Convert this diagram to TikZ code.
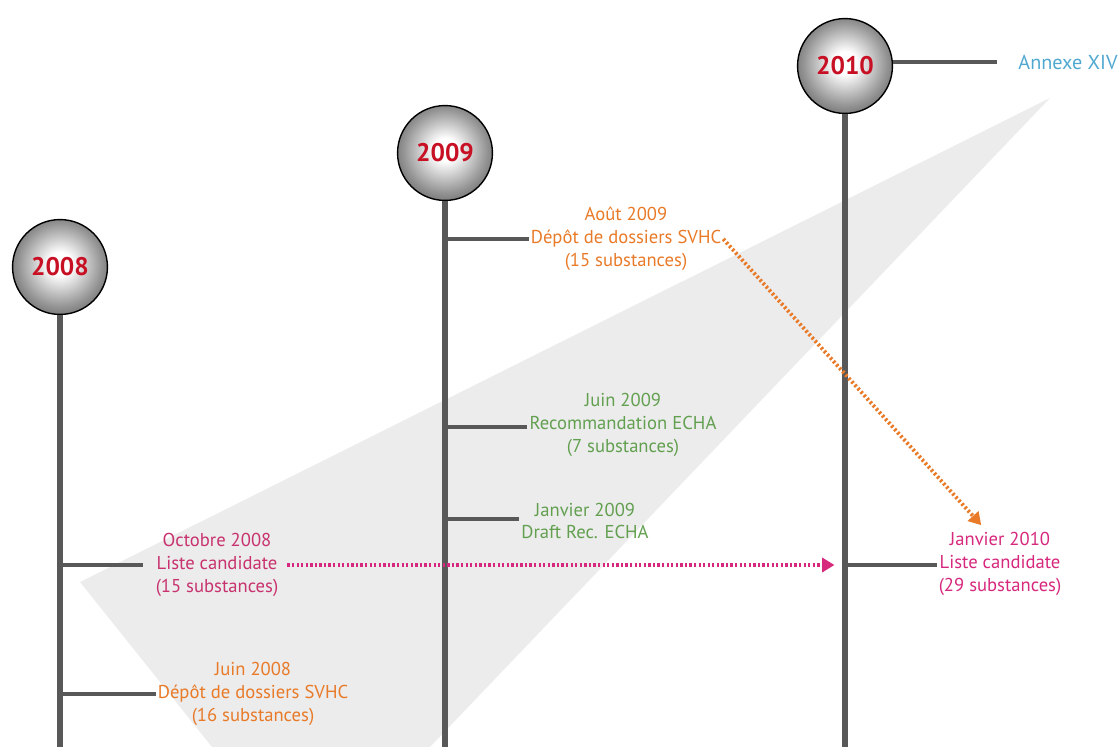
\documentclass[tikz,border=0pt]{standalone}
\usepackage{fontspec}
\setmainfont{PT Sans}
\usepackage{tikz}
\usetikzlibrary{arrows.meta,positioning}
\usepackage{xcolor}
\definecolor{tlgray}{RGB}{88,88,88}
\definecolor{tlwedge}{RGB}{236,236,236}
\definecolor{tlred}{RGB}{200,16,36}
\definecolor{tlorange}{RGB}{232,122,40}
\definecolor{tlgreen}{RGB}{98,160,80}
\definecolor{tlpink}{RGB}{200,50,110}
\definecolor{tlmagenta}{RGB}{214,40,124}
\definecolor{tlblue}{RGB}{80,168,208}
\pgfdeclareradialshading{yearball}{\pgfpoint{0bp}{2bp}}{color(0bp)=(white); color(6bp)=(white); color(22bp)=(black!42); color(36bp)=(black!74); color(50bp)=(black)}
\tikzstyle{year} = [circle, minimum size=54pt, inner sep=0pt, shading=yearball, draw=black, thick, text=tlred, font=\fontsize{14.5}{16}\selectfont\bfseries]
\tikzstyle{event} = [align=center, inner sep=1pt, font=\fontsize{10.6}{13}\selectfont]
\tikzstyle{axis} = [tlgray, line width=3.6pt]
\tikzstyle{tick} = [tlgray, line width=2.2pt]
\tikzstyle{dotarrow} = [line width=2.2pt, dash pattern=on 1.3pt off 1.3pt, -{Triangle[length=7pt,width=8pt]}]

\begin{document}
\begin{tikzpicture}[x=0.02cm, y=-0.02cm]
\useasboundingbox (0,0) rectangle (1120,747);
% Background wedge
\fill[tlwedge] (80,582) -- (1050,98) -- (430,747) -- (212,747) -- cycle;

% Year nodes
\node (y08) [year] at (60,267) {2008};
\node (y09) [year] at (445,153) {2009};
\node (y10) [year] at (845,66) {2010};

% Timeline axes
\coordinate (e08) at (60,747);
\coordinate (e09) at (445,747);
\coordinate (e10) at (845,747);
\draw[axis] (y08.south) -- (e08);
\draw[axis] (y09.south) -- (e09);
\draw[axis] (y10.south) -- (e10);

% Events
\node (oct08) [event, text=tlpink] at (217,565) {Octobre 2008\\Liste candidate\\(15 substances)};
\node (jun08) [event, text=tlorange] at (253,694) {Juin 2008\\Dépôt de dossiers SVHC\\(16 substances)};
\node (aug09) [event, text=tlorange] at (626,239) {Août 2009\\Dépôt de dossiers SVHC\\(15 substances)};
\node (jun09) [event, text=tlgreen] at (623,425) {Juin 2009\\Recommandation ECHA\\(7 substances)};
\node (jan09) [event, text=tlgreen] at (585,521) {Janvier 2009\\Draft Rec. ECHA};
\node (jan10) [event, text=tlmagenta] at (1000,564) {Janvier 2010\\Liste candidate\\(29 substances)};
\node (annex) [event, text=tlblue, font=\fontsize{11.5}{13}\selectfont] at (1068,62) {Annexe XIV};

% Ticks
\coordinate (t08a) at (60,565);
\coordinate (t08b) at (60,694);
\coordinate (t09a) at (445,239);
\coordinate (t09b) at (445,427);
\coordinate (t09c) at (445,519);
\coordinate (t10a) at (845,565);
\coordinate (t10b) at (845,62);
\draw[tick] (t08a) -- ([xshift=-6pt]t08a -| oct08.west);
\draw[tick] (t08b) -- (t08b -| jun08.west);
\draw[tick] (t09a) -- (t09a -| aug09.west);
\draw[tick] (t09b) -- (t09b -| jun09.west);
\draw[tick] (t09c) -- (t09c -| jan09.west);
\draw[tick] (t10a) -- (t10a -| jan10.west);
\draw[tick, shorten >=11pt] (t10b -| y10.east) -- (t10b -| annex.west);

% Dotted arrows
\draw[dotarrow, tlmagenta, shorten <=4pt, shorten >=6pt] (t10a -| oct08.east) -- (t10a);
\draw[dotarrow, tlorange, shorten >=4pt] (aug09.east) -- ([xshift=-8pt]jan10.north);
\end{tikzpicture}
\end{document}
